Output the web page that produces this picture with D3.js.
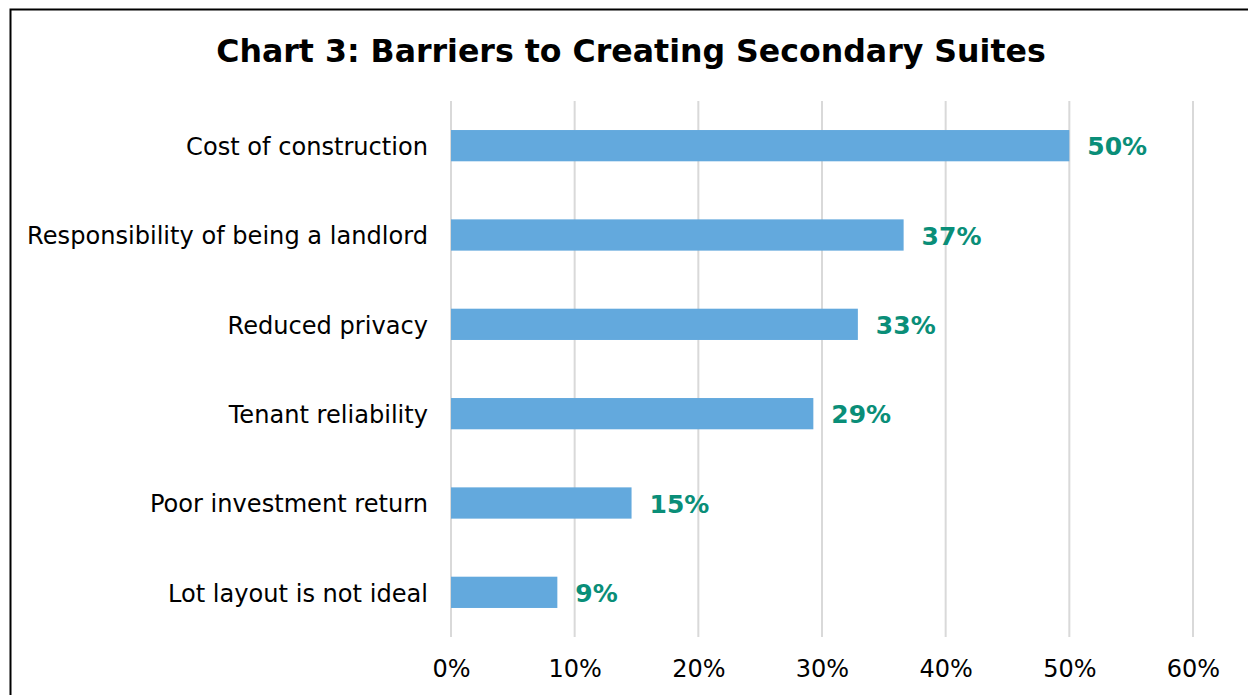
<!DOCTYPE html>
<html><head><meta charset="utf-8">
<script src="https://cdn.jsdelivr.net/npm/d3@7"></script>
<style>html,body{margin:0;padding:0;background:#fff;}svg{display:block;}</style>
</head><body>
<svg id="c" width="1248" height="695"></svg>
<script>
const title = "Chart 3: Barriers to Creating Secondary Suites";
const categories = ["Cost of construction","Responsibility of being a landlord","Reduced privacy","Tenant reliability","Poor investment return","Lot layout is not ideal"];
const values = [0.50, 0.366, 0.329, 0.293, 0.146, 0.086];
const valueLabels = ["50%","37%","33%","29%","15%","9%"];
const tickValues = [0,0.1,0.2,0.3,0.4,0.5,0.6];

const svg = d3.select("#c");
const font = "'DejaVu Sans', Verdana, sans-serif";
// border
svg.append("path").attr("d","M10.5,695 L10.5,9.5 L1248,9.5").attr("fill","none").attr("stroke","#000").attr("stroke-width",2);

const x = d3.scaleLinear().domain([0,0.6]).range([451,1193]);
const y = d3.scaleBand().domain(categories).range([101,637]).paddingInner(0.65).paddingOuter(0.325);

svg.append("text").attr("x",631).attr("y",62).attr("text-anchor","middle")
  .attr("font-family",font).attr("font-weight","bold").attr("font-size",31.6).attr("fill","#000").text(title);

// grid
const g = svg.append("g");
g.selectAll("line.grid").data(tickValues).join("line")
  .attr("x1",d=>x(d)).attr("x2",d=>x(d)).attr("y1",101).attr("y2",637)
  .attr("stroke","#D9D9D9").attr("stroke-width",2);

// axis labels
const xAxis = d3.axisBottom(x).tickValues(tickValues).tickFormat(d3.format(".0%")).tickSize(0).tickPadding(0);
const ax = svg.append("g").attr("transform","translate(0,677)").call(xAxis);
ax.select(".domain").remove();
ax.selectAll("text").attr("font-family",font).attr("font-size",24).attr("fill","#000").attr("dy","0");

const yAxis = d3.axisLeft(y).tickSize(0).tickPadding(0);
const ay = svg.append("g").attr("transform","translate(428,0)").call(yAxis);
ay.select(".domain").remove();
ay.selectAll("text").attr("font-family",font).attr("font-size",24.1).attr("fill","#000").attr("dy","0.39em");

// bars
svg.selectAll("rect.bar").data(categories).join("rect")
  .attr("x",x(0)).attr("y",d=>y(d)).attr("height",y.bandwidth())
  .attr("width",(d,i)=>x(values[i])-x(0)).attr("fill","#63A9DD");

// value labels
svg.selectAll("text.vl").data(categories).join("text")
  .attr("x",(d,i)=>x(values[i])+18).attr("y",d=>y(d)+y.bandwidth()/2).attr("dy","0.39em")
  .attr("font-family",font).attr("font-weight","bold").attr("font-size",25).attr("fill","#0A8E78")
  .text((d,i)=>valueLabels[i]);
</script>
</body></html>
